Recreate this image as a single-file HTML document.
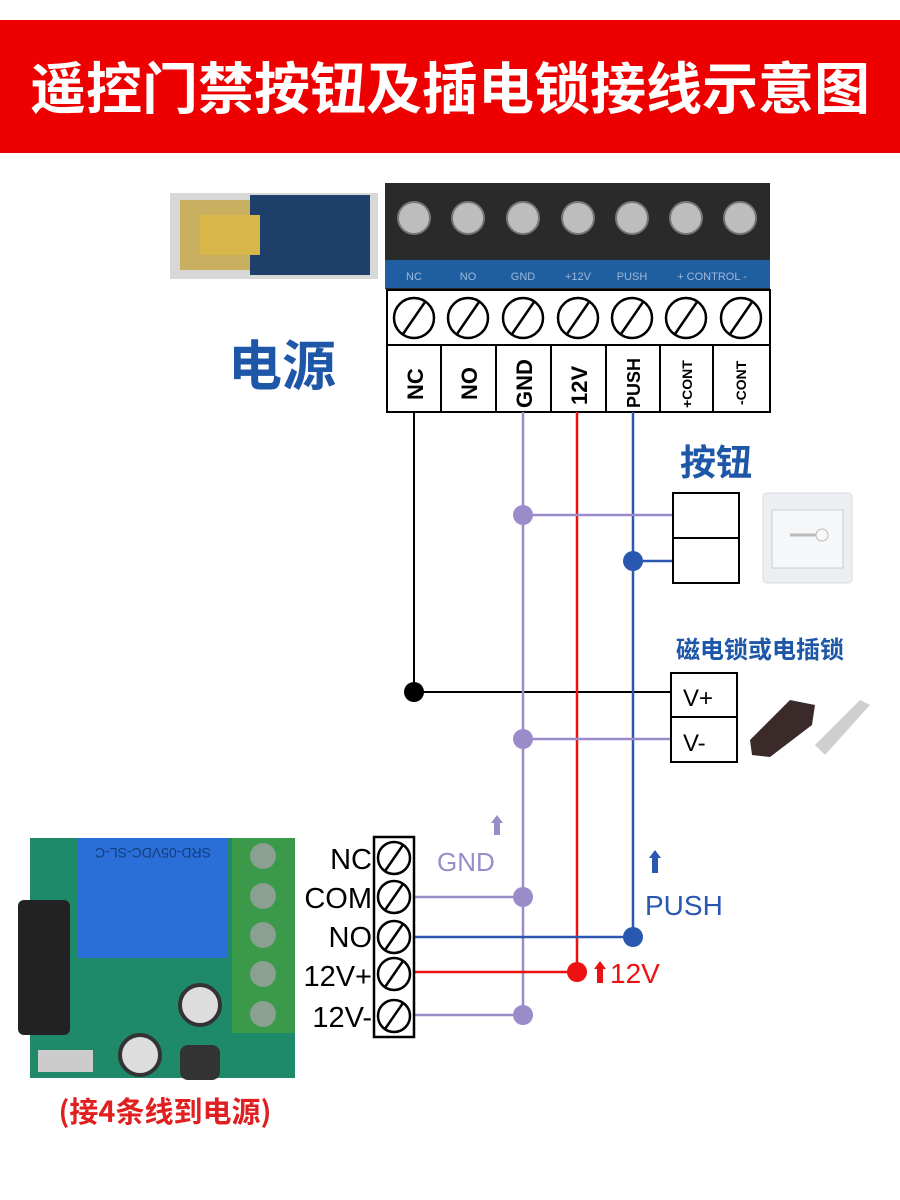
<!DOCTYPE html>
<html><head><meta charset="utf-8"><style>
body{margin:0;background:#fff;}
svg{display:block;font-family:"Liberation Sans","Noto Sans CJK SC",sans-serif;}
</style></head><body>
<svg width="900" height="1200" viewBox="0 0 900 1200" xmlns="http://www.w3.org/2000/svg">
<defs>
<g id="sc"><circle cx="0" cy="0" r="20"/><line x1="-11" y1="16" x2="11" y2="-16"/></g>
</defs>
<rect x="0" y="20" width="900" height="133" fill="#ee0000"/>
<text x="450" y="109" text-anchor="middle" font-size="56" font-weight="bold" fill="#fff" font-family="Noto Sans CJK SC, sans-serif">遥控门禁按钮及插电锁接线示意图</text>

<!-- power supply photo -->
<rect x="170" y="193" width="208" height="86" fill="#d8d8d8"/>
<rect x="180" y="200" width="110" height="70" fill="#c9b060"/>
<rect x="250" y="195" width="120" height="80" fill="#1d3f6a"/>
<rect x="200" y="215" width="60" height="40" fill="#d9b64a"/>
<!-- terminal photo -->
<rect x="385" y="183" width="385" height="106" fill="#2a2a2a"/>
<rect x="385" y="260" width="385" height="28" fill="#1f5ea0"/>
<g fill="#bdbdbd" stroke="#777" stroke-width="2">
<circle cx="414" cy="218" r="16"/><circle cx="468" cy="218" r="16"/><circle cx="523" cy="218" r="16"/><circle cx="578" cy="218" r="16"/><circle cx="632" cy="218" r="16"/><circle cx="686" cy="218" r="16"/><circle cx="740" cy="218" r="16"/>
</g>
<g font-size="11" fill="#9fb8d8" text-anchor="middle">
<text x="414" y="280">NC</text><text x="468" y="280">NO</text><text x="523" y="280">GND</text><text x="578" y="280">+12V</text><text x="632" y="280">PUSH</text><text x="712" y="280">+ CONTROL -</text>
</g>

<!-- top terminal box -->
<rect x="387" y="290" width="383" height="122" fill="#fff" stroke="#000" stroke-width="2"/>
<line x1="387" y1="345" x2="770" y2="345" stroke="#000" stroke-width="2"/>
<g stroke="#000" stroke-width="2">
<line x1="441" y1="345" x2="441" y2="412"/><line x1="496" y1="345" x2="496" y2="412"/><line x1="551" y1="345" x2="551" y2="412"/><line x1="606" y1="345" x2="606" y2="412"/><line x1="660" y1="345" x2="660" y2="412"/><line x1="713" y1="345" x2="713" y2="412"/>
</g>
<g fill="none" stroke="#000" stroke-width="2.5">
<use href="#sc" x="414" y="318"/><use href="#sc" x="468" y="318"/><use href="#sc" x="523" y="318"/><use href="#sc" x="578" y="318"/><use href="#sc" x="632" y="318"/><use href="#sc" x="686" y="318"/><use href="#sc" x="741" y="318"/>
</g>
<g font-weight="bold" fill="#000">
<text transform="translate(423,400) rotate(-90)" font-size="22">NC</text>
<text transform="translate(477,400) rotate(-90)" font-size="22">NO</text>
<text transform="translate(532,408) rotate(-90)" font-size="22">GND</text>
<text transform="translate(587,405) rotate(-90)" font-size="22">12V</text>
<text transform="translate(640,408) rotate(-90)" font-size="18">PUSH</text>
<text transform="translate(692,408) rotate(-90)" font-size="14">+CONT</text>
<text transform="translate(746,405) rotate(-90)" font-size="14">-CONT</text>
</g>
<text x="282" y="385" text-anchor="middle" font-size="54" font-weight="bold" fill="#1f57a8" font-family="Noto Sans CJK SC, sans-serif">电源</text>

<!-- wires -->
<polyline points="414,412 414,692 672,692" fill="none" stroke="#000" stroke-width="2"/>
<line x1="523" y1="412" x2="523" y2="1015" stroke="#9a8cc8" stroke-width="2.5"/>
<line x1="577" y1="412" x2="577" y2="972" stroke="#ee1111" stroke-width="2.5"/>
<line x1="633" y1="412" x2="633" y2="937" stroke="#2a58b0" stroke-width="2.5"/>
<line x1="523" y1="515" x2="673" y2="515" stroke="#9a8cc8" stroke-width="2.5"/>
<line x1="633" y1="561" x2="673" y2="561" stroke="#2a58b0" stroke-width="2.5"/>
<line x1="523" y1="739" x2="672" y2="739" stroke="#9a8cc8" stroke-width="2.5"/>
<line x1="412" y1="897" x2="523" y2="897" stroke="#9a8cc8" stroke-width="2.5"/>
<line x1="412" y1="937" x2="633" y2="937" stroke="#2a58b0" stroke-width="2.5"/>
<line x1="412" y1="972" x2="577" y2="972" stroke="#ee1111" stroke-width="2.5"/>
<line x1="412" y1="1015" x2="523" y2="1015" stroke="#9a8cc8" stroke-width="2.5"/>
<circle cx="414" cy="692" r="10" fill="#000"/>
<g fill="#9a8cc8"><circle cx="523" cy="515" r="10"/><circle cx="523" cy="739" r="10"/><circle cx="523" cy="897" r="10"/><circle cx="523" cy="1015" r="10"/></g>
<circle cx="633" cy="561" r="10" fill="#2a58b0"/>
<circle cx="633" cy="937" r="10" fill="#2a58b0"/>
<circle cx="577" cy="972" r="10" fill="#ee1111"/>

<!-- button -->
<text x="680" y="475" font-size="36" font-weight="bold" fill="#1f57a8" font-family="Noto Sans CJK SC, sans-serif">按钮</text>
<rect x="673" y="493" width="66" height="90" fill="#fff" stroke="#000" stroke-width="2"/>
<line x1="673" y1="538" x2="739" y2="538" stroke="#000" stroke-width="2"/>
<rect x="763" y="493" width="89" height="90" rx="4" fill="#eceef2" stroke="#d8dbe0"/>
<rect x="772" y="510" width="71" height="58" fill="#f6f7f9" stroke="#c8ccd2"/>
<circle cx="822" cy="535" r="6" fill="none" stroke="#bbb"/>
<line x1="790" y1="535" x2="816" y2="535" stroke="#bbb" stroke-width="3"/>

<!-- lock -->
<text x="676" y="658" font-size="24" font-weight="bold" fill="#1f57a8" font-family="Noto Sans CJK SC, sans-serif">磁电锁或电插锁</text>
<rect x="671" y="673" width="66" height="89" fill="#fff" stroke="#000" stroke-width="2"/>
<line x1="671" y1="717" x2="737" y2="717" stroke="#000" stroke-width="2"/>
<text x="683" y="706" font-size="24" fill="#000">V+</text>
<text x="683" y="751" font-size="24" fill="#000">V-</text>
<polygon points="750,740 790,700 815,705 812,725 770,757 752,755" fill="#3a2a2a"/>
<polygon points="815,745 860,700 870,705 825,755" fill="#cfcfcf"/>

<!-- labels -->
<text x="437" y="871" font-size="26" fill="#9a8cc8">GND</text>
<polygon points="497,815 503,823 500,823 500,835 494,835 494,823 491,823" fill="#9a8cc8"/>
<text x="645" y="915" font-size="28" fill="#2a58b0">PUSH</text>
<polygon points="655,850 661,858 658,858 658,873 652,873 652,858 649,858" fill="#2a58b0"/>
<polygon points="600,961 606,969 603,969 603,983 597,983 597,969 594,969" fill="#ee1111"/>
<text x="610" y="983" font-size="28" fill="#ee1111">12V</text>

<!-- bottom terminal -->
<rect x="374" y="837" width="40" height="200" fill="#fff" stroke="#000" stroke-width="2.5"/>
<g fill="none" stroke="#000" stroke-width="2.5">
<circle cx="394" cy="858" r="16"/><line x1="385" y1="871" x2="403" y2="845"/>
<circle cx="394" cy="897" r="16"/><line x1="385" y1="910" x2="403" y2="884"/>
<circle cx="394" cy="937" r="16"/><line x1="385" y1="950" x2="403" y2="924"/>
<circle cx="394" cy="974" r="16"/><line x1="385" y1="987" x2="403" y2="961"/>
<circle cx="394" cy="1016" r="16"/><line x1="385" y1="1029" x2="403" y2="1003"/>
</g>
<g font-size="29" fill="#000" text-anchor="end">
<text x="372" y="869">NC</text><text x="372" y="908">COM</text><text x="372" y="947">NO</text><text x="372" y="986">12V+</text><text x="372" y="1027">12V-</text>
</g>

<!-- PCB -->
<rect x="30" y="838" width="265" height="240" fill="#1f8a6a"/>
<rect x="78" y="838" width="150" height="120" fill="#2a6fd8"/>
<text x="153" y="858" font-size="14" fill="#143d80" text-anchor="middle" transform="rotate(180 153 853)">SRD-05VDC-SL-C</text>
<rect x="232" y="838" width="63" height="195" fill="#3a9a4a"/>
<g fill="#8aa090"><circle cx="263" cy="856" r="13"/><circle cx="263" cy="896" r="13"/><circle cx="263" cy="935" r="13"/><circle cx="263" cy="974" r="13"/><circle cx="263" cy="1014" r="13"/></g>
<rect x="18" y="900" width="52" height="135" rx="6" fill="#222"/>
<circle cx="200" cy="1005" r="20" fill="#ddd" stroke="#333" stroke-width="4"/>
<circle cx="140" cy="1055" r="20" fill="#ddd" stroke="#333" stroke-width="4"/>
<rect x="180" y="1045" width="40" height="35" rx="8" fill="#333"/>
<rect x="38" y="1050" width="55" height="22" fill="#ccc"/>
<text x="165" y="1122" text-anchor="middle" font-size="29" font-weight="bold" fill="#e02020" font-family="Noto Sans CJK SC, sans-serif">(接4条线到电源)</text>
</svg>
</body></html>
